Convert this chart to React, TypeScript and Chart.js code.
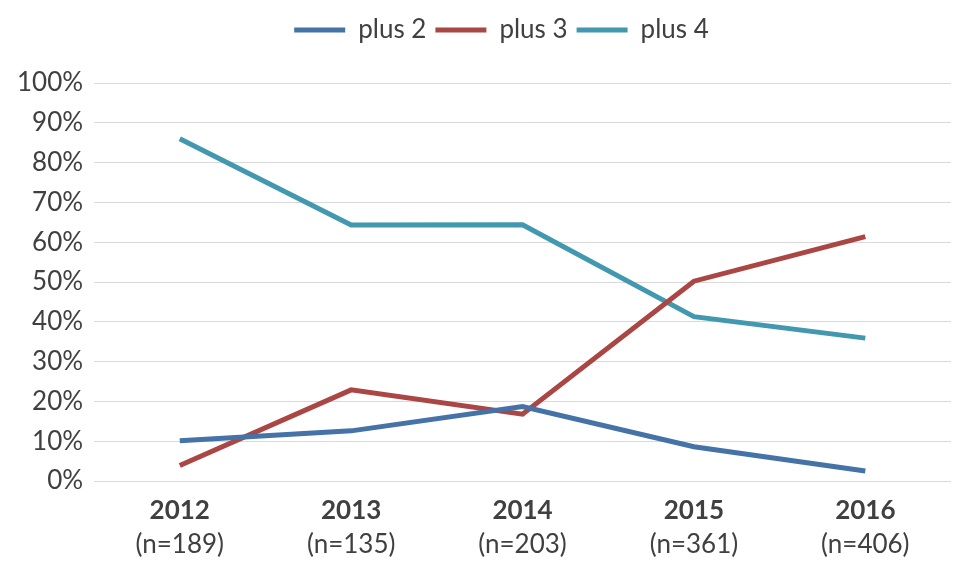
import React, { useEffect, useRef } from "react";
import { Chart, registerables } from "chart.js";

Chart.register(...registerables);

const years = ["2012", "2013", "2014", "2015", "2016"];
const sampleSizes = ["(n=189)", "(n=135)", "(n=203)", "(n=361)", "(n=406)"];
const plus2 = [0.101, 0.126, 0.187, 0.086, 0.025];
const plus3 = [0.039, 0.229, 0.168, 0.502, 0.614];
const plus4 = [0.860, 0.643, 0.644, 0.413, 0.359];
const seriesNames = ["plus 2", "plus 3", "plus 4"];
const seriesColors = ["#4572A7", "#AA4643", "#4198AF"];

const FONT = "Lato, 'Open Sans', sans-serif";
const TEXT = "#404040";

const legendMargin = {
  id: "legendMargin",
  beforeInit(chart: any) {
    const orig = chart.legend.fit;
    chart.legend.fit = function () {
      orig.bind(chart.legend)();
      this.height += 30;
    };
  },
  afterLayout(chart: any) {
    if (chart.legend) {
      chart.legend.left += 23;
      chart.legend.right += 23;
    }
  },
};

const sampleLabels = {
  id: "sampleLabels",
  afterDraw(chart: any) {
    const x = chart.scales.x;
    const ctx = chart.ctx;
    ctx.save();
    ctx.font = "normal 26px " + FONT;
    ctx.fillStyle = TEXT;
    ctx.textAlign = "center";
    ctx.textBaseline = "middle";
    sampleSizes.forEach((s, i) => {
      ctx.fillText(s, x.getPixelForValue(i), chart.chartArea.bottom + 64);
    });
    ctx.restore();
  },
};

export default function App() {
  const ref = useRef<HTMLCanvasElement | null>(null);

  useEffect(() => {
    if (!ref.current) return;
    const values = [plus2, plus3, plus4];
    const chart = new Chart(ref.current, {
      type: "line",
      data: {
        labels: years,
        datasets: values.map((v, i) => ({
          label: seriesNames[i],
          data: v,
          borderColor: seriesColors[i],
          backgroundColor: seriesColors[i],
          borderWidth: 5,
          pointRadius: 0,
          pointHoverRadius: 0,
          tension: 0,
          fill: false,
        })),
      },
      plugins: [legendMargin, sampleLabels],
      options: {
        animation: false,
        responsive: true,
        maintainAspectRatio: false,
        layout: { padding: { left: 6, right: 29, top: 8, bottom: 8 } },
        plugins: {
          tooltip: { enabled: false },
          legend: {
            position: "top",
            labels: {
              usePointStyle: true,
              pointStyle: "line",
              pointStyleWidth: 51,
              boxHeight: 26,
              padding: 9,
              color: TEXT,
              font: { family: FONT, size: 26 },
            },
          },
        },
        scales: {
          y: {
            min: 0,
            max: 1,
            ticks: {
              stepSize: 0.1,
              padding: 11,
              color: TEXT,
              font: { family: FONT, size: 26 },
              callback: (v: any) => Math.round(Number(v) * 100) + "%",
            },
            grid: { color: "#D9D9D9", lineWidth: 1, drawTicks: false },
            border: { display: false },
          },
          x: {
            type: "category",
            position: "bottom",
            offset: true,
            grid: { display: false, drawTicks: false },
            border: { display: false },
            afterFit: (scale: any) => {
              scale.height = 83;
            },
            ticks: {
              padding: 14,
              color: TEXT,
              autoSkip: false,
              maxRotation: 0,
              font: { family: FONT, size: 26, weight: "bold" },
            },
          },
        },
      },
    } as any);
    return () => chart.destroy();
  }, []);

  return (
    <div style={{ position: "fixed", left: 0, top: 0, width: 980, height: 572, background: "#fff" }}>
      <canvas ref={ref} />
    </div>
  );
}
